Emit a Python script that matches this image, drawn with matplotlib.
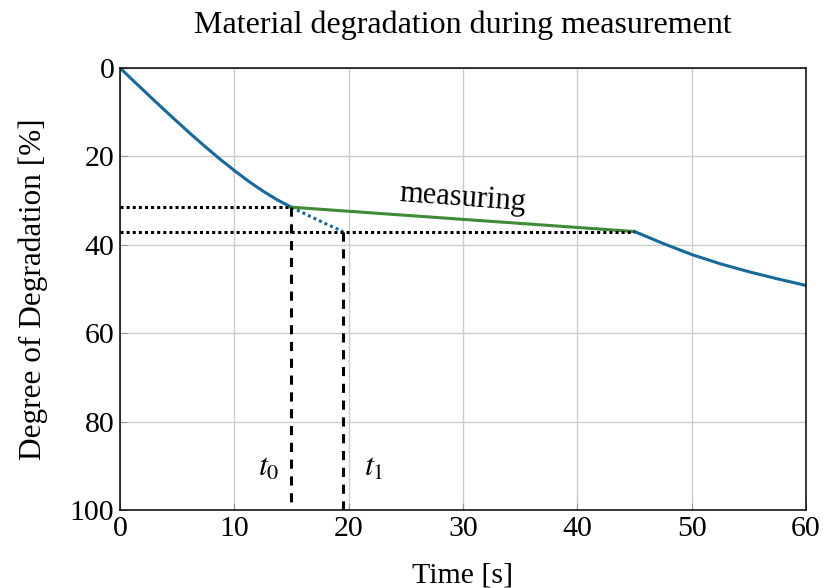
import matplotlib
matplotlib.use("Agg")
import matplotlib.pyplot as plt

# --- data ---
t_before = [0, 1.25, 2.5, 3.75, 5, 6.25, 7.5, 8.75, 10, 11.25, 12.5, 13.75, 15]
d_before = [0, 3.08, 6.15, 9.18, 12.15, 15.08, 17.9, 20.63, 23.2, 25.63, 27.85, 29.83, 31.5]

t_extrap = [15, 16.5, 18, 19.5]
d_extrap = [31.5, 33.4, 35.25, 37.0]

t_meas = [15, 45]
d_meas = [31.5, 37.0]

t_after = [45, 47.5, 50, 52.5, 55, 57.5, 60]
d_after = [37.0, 39.7, 42.2, 44.3, 46.1, 47.7, 49.2]

t0, t1 = 15, 19.5
d0, d1 = 31.5, 37.0

xticks = [0, 10, 20, 30, 40, 50, 60]
yticks = [0, 20, 40, 60, 80, 100]

blue = "#17699a"
green = "#3f8a35"

plt.rcParams["font.family"] = ["Liberation Serif", "DejaVu Serif"]
plt.rcParams["mathtext.fontset"] = "stix"

fig = plt.figure(figsize=(8.23, 5.88), dpi=100)
ax = fig.add_axes([0.1458, 0.1327, 0.8335, 0.7517])

ax.plot(t_before, d_before, color=blue, lw=2.2, solid_joinstyle="round")
ax.plot(t_extrap, d_extrap, color=blue, lw=2.2, linestyle=(0, (1, 1)))
ax.plot(t_meas, d_meas, color=green, lw=2.2)
ax.plot(t_after, d_after, color=blue, lw=2.2, solid_joinstyle="round")

# guide lines
ax.plot([0, t0], [d0, d0], color="black", lw=2.2, linestyle=(0, (1, 1)))
ax.plot([0, t_meas[1]], [d1, d1], color="black", lw=2.2, linestyle=(0, (1, 1)))
ax.plot([t0, t0], [d0, 100], color="black", lw=2.2, linestyle=(0, (3, 2.5)))
ax.plot([t1, t1], [d1, 100], color="black", lw=2.2, linestyle=(0, (3, 2.5)))

ax.text(30.0, 29.5, "measuring", fontsize=22, rotation=-4.2, ha="center",
        va="center", rotation_mode="anchor")
ax.text(13.0, 90.5, r"$t_0$", fontsize=23, ha="center", va="center")
ax.text(22.2, 90.5, r"$t_1$", fontsize=23, ha="center", va="center")

ax.set_xlim(0, 60)
ax.set_ylim(100, 0)
ax.set_xticks(xticks)
ax.set_yticks(yticks)
ax.tick_params(direction="in", length=5, color="#999999", labelsize=21.5, pad=4)
ax.grid(True, color="#cccccc", lw=1)
ax.set_axisbelow(True)
for s in ax.spines.values():
    s.set_linewidth(1.1)
    s.set_color("black")

ax.set_xlabel("Time [s]", fontsize=21.5, labelpad=15)
ax.set_ylabel("Degree of Degradation [%]", fontsize=22.5, labelpad=16)
ax.set_title("Material degradation during measurement", fontsize=23, pad=25)

fig.savefig("out.png", dpi=100)
